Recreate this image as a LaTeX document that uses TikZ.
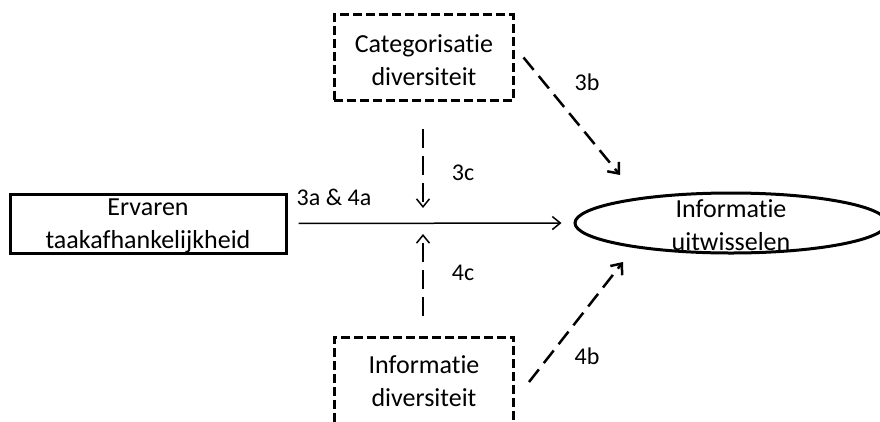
\documentclass[tikz,border=0pt]{standalone}
\usepackage{fontspec}
\setmainfont{Carlito}[Ligatures={NoCommon}]
\usetikzlibrary{arrows.meta,shapes.geometric}
\tikzset{
  mainfont/.style={font=\fontsize{26}{33}\selectfont},
  lblfont/.style={font=\fontsize{24}{28}\selectfont},
  dashbox/.style={draw, line width=3pt, dash pattern=on 9pt off 4pt, minimum width=179pt, minimum height=86pt, inner sep=0pt, align=center, mainfont},
  solidbox/.style={draw, line width=3pt, minimum width=276pt, minimum height=59pt, inner sep=0pt, align=center, mainfont},
  ellbox/.style={draw, ellipse, line width=3pt, minimum width=312pt, minimum height=60pt, inner sep=0pt},
  thinarrow/.style={line width=1.5pt, -{Straight Barb[length=8pt,width=13pt,line width=1.5pt]}},
  vdash/.style={thinarrow, dash pattern=on 19pt off 8pt},
  ddash/.style={line width=2.5pt, dash pattern=on 16pt off 8pt, -{Straight Barb[length=9pt,width=15pt,line width=2.5pt]}},
  lbl/.style={lblfont, inner sep=0pt},
  txt/.style={mainfont, align=center, inner sep=0pt}
}
\begin{document}
\begin{tikzpicture}[x=1pt,y=-1pt]
\useasboundingbox (0,0) rectangle (880,421);
\clip (0,0) rectangle (880,421);
% nodes
\node[dashbox] (cat) at (423.5,57.5) {};
\node[txt] (cattext) at (424,60) {Categorisatie\\diversiteit};
\node[solidbox] (erv) at (148,223.5) {};
\node[txt] (ervtext) at (148,226) {Ervaren\\taakafhankelijkheid};
\node[dashbox] (inf) at (424,380) {};
\node[txt] (inftext) at (424,381) {Informatie\\diversiteit};
\node[ellbox] (ell) at (731,223) {};
\node[txt] (elltext) at (731,225) {Informatie\\uitwisselen};
% coordinates
\coordinate (mid) at (423,223);
\coordinate (e3b) at (620,175);
\coordinate (e4b) at (623,262);
% connectors
\draw[thinarrow, shorten <=11pt, shorten >=12pt] (erv.east) -- (ell.west);
\draw[vdash, shorten <=27pt, shorten >=15pt] (cat.south -| mid) -- (mid);
\draw[vdash, shorten <=20pt, shorten >=11pt] (inf.north -| mid) -- (mid);
\draw[ddash] ([xshift=9pt]cat.east) -- (e3b);
\draw[ddash] ([xshift=14pt,yshift=-2pt]inf.east) -- (e4b);
% labels
\node[lbl] (l3a) at (334,197) {3a \& 4a};
\node[lbl] (l3b) at (587,82) {3b};
\node[lbl] (l3c) at (463,173) {3c};
\node[lbl] (l4c) at (463,273) {4c};
\node[lbl] (l4b) at (587,356) {4b};
\end{tikzpicture}
\end{document}
